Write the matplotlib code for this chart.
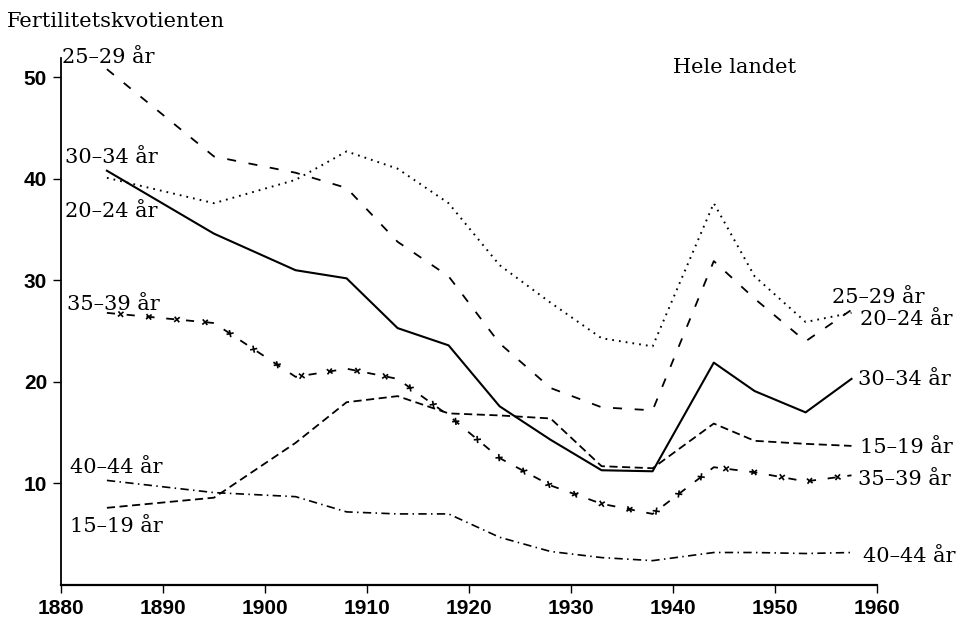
import matplotlib
matplotlib.use("Agg")
import matplotlib.pyplot as plt
from matplotlib import patheffects as pe

# fertility quotients by age group, Norway
years = [1884.5, 1895, 1903, 1908, 1913, 1918, 1923, 1928, 1933, 1938, 1944, 1948, 1953, 1957.5]
age_15_19 = [7.6, 8.6, 14.0, 18.0, 18.6, 16.9, 16.7, 16.4, 11.7, 11.5, 15.9, 14.2, 13.9, 13.7]
age_20_24 = [40.1, 37.6, 39.9, 42.7, 41.0, 37.6, 31.5, 27.8, 24.3, 23.5, 37.6, 30.4, 25.9, 26.8]
age_25_29 = [50.8, 42.2, 40.6, 39.1, 33.8, 30.4, 23.8, 19.4, 17.5, 17.2, 31.9, 28.2, 24.0, 27.1]
age_30_34 = [40.8, 34.6, 31.0, 30.2, 25.3, 23.6, 17.6, 14.3, 11.3, 11.2, 21.9, 19.1, 17.0, 20.3]
age_35_39 = [26.8, 25.8, 20.5, 21.3, 20.3, 16.7, 12.5, 9.8, 8.0, 7.0, 11.6, 11.1, 10.2, 10.8]
age_40_44 = [10.3, 9.1, 8.7, 7.2, 7.0, 7.0, 4.7, 3.3, 2.7, 2.4, 3.2, 3.2, 3.1, 3.2]

W, H = 968, 623
fig = plt.figure(figsize=(W / 100, H / 100), dpi=100)
ax = fig.add_axes([61 / W, 38 / H, 816 / W, 527 / H])

k = "black"
ax.plot(years, age_30_34, color=k, lw=1.5)
ax.plot(years, age_20_24, color=k, lw=1.4, dashes=(0.9, 2.6), dash_capstyle="butt")
ax.plot(years, age_25_29, color=k, lw=1.3, dashes=(5, 7))
ax.plot(years, age_15_19, color=k, lw=1.3, dashes=(4.5, 2.5))
ax.plot(years, age_40_44, color=k, lw=1.2, dashes=(5, 2.6, 0.9, 2.6))

# dashed line with small crosses along it
nodash = dict(dash_offset=0, dash_list=None)
cross = [pe.TickedStroke(spacing=20, angle=a, length=0.13, linewidth=1.2, dashes=nodash)
         for a in (45, -135, 135, -45)]
ax.plot(years, age_35_39, color=k, lw=1.3, dashes=(4.5, 6.5),
        path_effects=cross + [pe.Normal()])

ax.set_xlim(1880, 1960)
ax.set_ylim(0, 51.9)
ax.set_xticks(range(1880, 1961, 10))
ax.set_yticks([10, 20, 30, 40, 50])
for s in ("top", "right"):
    ax.spines[s].set_visible(False)
ax.spines["bottom"].set_linewidth(1.6)
ax.spines["left"].set_linewidth(1.3)
ax.tick_params(axis="both", direction="out", length=6, width=1, pad=4)
for lab in ax.get_xticklabels() + ax.get_yticklabels():
    lab.set_fontfamily("Liberation Sans")
    lab.set_fontweight("bold")
    lab.set_fontsize(15)

serif = dict(family="DejaVu Serif", fontsize=15, va="baseline", ha="left")


def put(x, y, s):
    fig.text(x / W, 1 - y / H, s, **serif)


put(7, 27, "Fertilitetskvotienten")
put(673, 73, "Hele landet")

put(62, 63, "25–29 år")
put(65, 163, "30–34 år")
put(65, 217, "20–24 år")
put(67, 310, "35–39 år")
put(70, 473, "40–44 år")
put(70, 532, "15–19 år")

put(832, 303, "25–29 år")
put(860, 325, "20–24 år")
put(858, 385, "30–34 år")
put(860, 453, "15–19 år")
put(858, 485, "35–39 år")
put(863, 562, "40–44 år")

fig.savefig("out.png", dpi=100)
